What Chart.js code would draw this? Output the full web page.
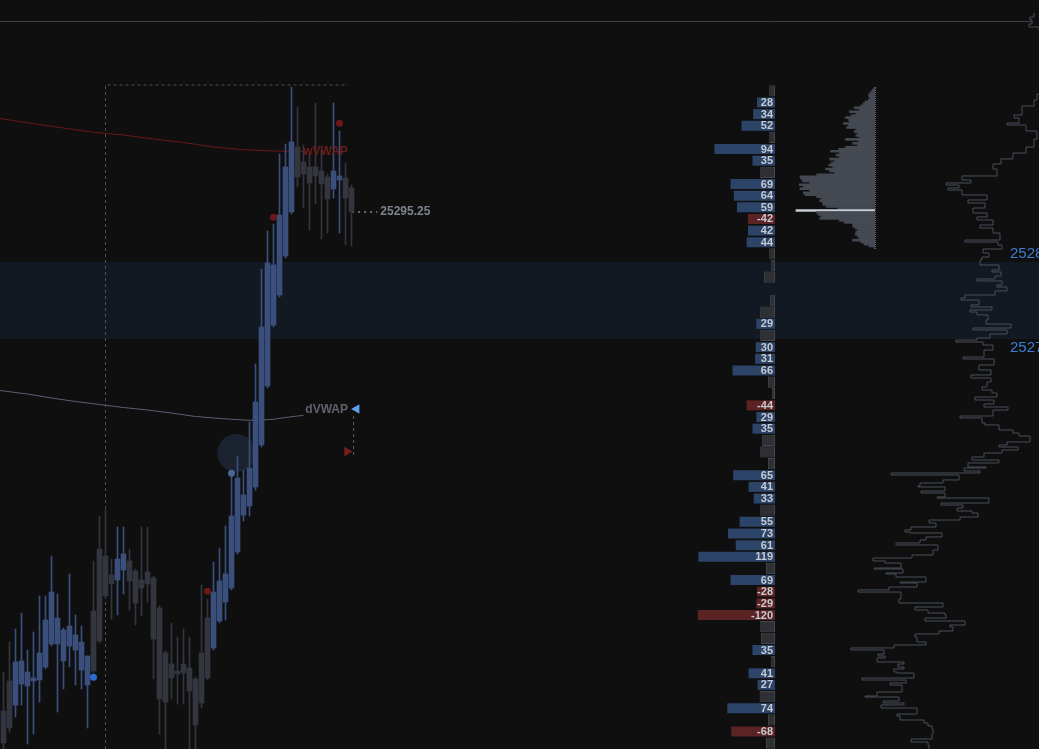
<!doctype html>
<html lang="en">
  <head>
    <meta charset="utf-8" />
    <title>NQ 1 min footprint</title>
    <style>
      html,
      body {
        margin: 0;
        padding: 0;
        width: 1039px;
        height: 749px;
        overflow: hidden;
        background: #0f0f10;
      }

      canvas {
        position: absolute;
        display: block;
      }

      #priceChart { left: 0; top: 0; }
      #sessionChart { left: 840px; top: 0; }
      #deltaChart { left: 690px; top: 85px; }
      #profileChart {
        left: 790px;
        top: 87px;
        border-right: 1px dotted #5d626b;
      }
    </style>
  </head>

  <body>
    <canvas id="priceChart" width="1039" height="749"></canvas>
    <canvas id="sessionChart" width="220" height="749"></canvas>
    <canvas id="deltaChart" width="88" height="664"></canvas>
    <canvas id="profileChart" width="86" height="162"></canvas>

    <script src="https://cdn.jsdelivr.net/npm/chart.js@4.4.1/dist/chart.umd.min.js"></script>
    <script type="text/javascript">
      // 1 min candles (oldest first)
      const candleOpen = [
        25245.35, 25248.35, 25245.95, 25248.05, 25247.85, 25248.35, 25248.45, 25249.75, 25252.05, 25252.05,
        25250.35, 25251.85, 25251.45, 25249.45, 25247.95, 25255.35, 25261.55, 25260.85, 25258.95, 25258.45,
        25259.45, 25260.35, 25259.35, 25258.45, 25259.25, 25258.65, 25255.65, 25251.15, 25250.05, 25249.35,
        25250.05, 25249.65, 25248.55, 25251.15, 25254.65, 25251.65, 25254.35, 25256.25, 25257.65, 25261.25,
        25264.95, 25265.85, 25267.75, 25271.95, 25277.85, 25283.95, 25286.95, 25290.85, 25295.25, 25301.75,
        25300.25, 25299.75, 25299.75, 25299.35, 25298.75, 25297.55, 25298.45, 25298.65, 25297.65,
      ];
      const candleHigh = [
        25249.25, 25252.25, 25253.55, 25255.15, 25251.45, 25253.25, 25256.85, 25256.85, 25260.85, 25257.05,
        25253.65, 25259.05, 25254.95, 25253.85, 25250.85, 25260.35, 25264.85, 25265.45, 25260.55, 25263.75,
        25263.75, 25261.55, 25259.55, 25263.75, 25263.75, 25258.85, 25255.85, 25251.35, 25254.15, 25252.75,
        25253.55, 25252.75, 25248.75, 25257.95, 25256.55, 25260.25, 25261.65, 25263.85, 25269.15, 25270.85,
        25269.45, 25274.25, 25280.05, 25289.55, 25293.35, 25294.05, 25301.05, 25302.05, 25307.75, 25305.75,
        25301.95, 25301.05, 25306.15, 25301.45, 25299.05, 25306.15, 25303.35, 25300.15, 25297.95,
      ];
      const candleLow = [
        25240.5, 25243.25, 25244.75, 25245.95, 25242.05, 25243.05, 25246.25, 25249.55, 25251.85, 25245.25,
        25247.55, 25249.75, 25247.95, 25247.55, 25243.65, 25249.15, 25252.15, 25256.65, 25254.55, 25254.95,
        25257.05, 25255.45, 25253.95, 25254.85, 25256.25, 25248.55, 25243.05, 25240.5, 25246.55, 25246.05,
        25246.05, 25240.5, 25240.5, 25245.65, 25248.45, 25251.45, 25254.15, 25254.45, 25257.45, 25261.05,
        25264.35, 25264.85, 25267.45, 25271.75, 25277.65, 25283.75, 25286.75, 25290.65, 25295.05, 25297.75,
        25295.65, 25293.45, 25296.05, 25292.55, 25293.15, 25296.65, 25293.15, 25291.95, 25291.85,
      ];
      const candleClose = [
        25242.15, 25243.65, 25250.25, 25250.35, 25249.25, 25248.65, 25251.15, 25254.45, 25257.25, 25254.65,
        25253.45, 25253.85, 25252.95, 25252.25, 25250.85, 25249.35, 25252.35, 25256.85, 25258.05, 25260.55,
        25261.05, 25258.35, 25256.15, 25257.65, 25258.05, 25252.55, 25246.55, 25246.25, 25248.65, 25249.05,
        25249.15, 25247.35, 25243.95, 25246.15, 25248.65, 25257.25, 25258.35, 25259.05, 25264.85, 25268.65,
        25266.95, 25269.65, 25276.25, 25283.75, 25290.15, 25289.95, 25294.95, 25299.75, 25302.25, 25298.75,
        25299.05, 25298.15, 25298.85, 25298.05, 25296.55, 25299.35, 25298.85, 25296.65, 25295.25,
      ];

      // vwap lines (candle slot, price)
      const wvwapSlot = [-0.6, 5, 10, 15, 20, 25, 30, 35, 40, 45, 50];
      const wvwap = [25304.6, 25304.08, 25303.65, 25303.22, 25302.95, 25302.55, 25302.2, 25301.75, 25301.48, 25301.35, 25301.3];
      const dvwapSlot = [-0.6, 4, 8, 12, 16, 20, 24, 28, 32, 35, 38, 41, 43, 45, 47, 49, 50];
      const dvwap = [
        25277.4, 25277.05, 25276.65, 25276.3, 25276.0, 25275.7, 25275.45, 25275.15, 25274.8,
        25274.65, 25274.52, 25274.42, 25274.45, 25274.52, 25274.7, 25274.85, 25274.92,
      ];

      // signal dots
      const signalSlot = [56, 45, 34, 38, 15];
      const signalPrice = [25304.12, 25294.72, 25257.32, 25269.12, 25248.72];
      const signalColor = ["#6d1818", "#6d1818", "#6d1818", "#4a6894", "#2e6acb"];

      const lastPrice = 25295.25;
      const zoneHigh = 25290.25;
      const zoneLow = 25282.55;
      const rangeHigh = 25307.95;
      const rangeStartSlot = 17;
      const rangeEndSlot = 57.4;
      const priorLevel = 25314.3;

      // footprint delta per row (top to bottom)
      const deltas = [
        9, 28, 34, 52, 9, 94, 35, 23, 69, 64,
        59, -42, 42, 44, 9, 6, 17, 0, 8, 23,
        29, 23, 30, 31, 66, 11, 5, -44, 29, 35,
        20, 23, 11, 65, 41, 33, 23, 55, 73, 61,
        119, 14, 69, -28, -29, -120, 23, 22, 35, 6,
        41, 27, 24, 74, 11, -68, 14,
      ];
      const deltaRows = deltas.map((d, i) => "row " + (i + 1));

      // bar volume profile (top to bottom)
      const profileVolume = [
        10, 27, 43, 60, 67, 50, 67, 100, 120, 143,
        210, 160, 260, 193, 243, 300, 267, 260, 320, 267,
        287, 193, 210, 177, 193, 160, 300, 167, 227, 177,
        300, 367, 450, 360, 393, 360, 460, 410, 443, 467,
        427, 500, 460, 410, 593, 760, 750, 733, 660, 767,
        727, 760, 660, 727, 710, 593, 543, 560, 533, 527,
        493, 377, 800, 593, 577, 543, 560, 360, 310, 227,
        227, 200, 177, 193, 200, 177, 160, 227, 143, 110,
        60, 10,
      ];
      const profileRows = profileVolume.map((v, i) => "p" + i);

      // session profile outline (price where a run starts, volume of the run)
      const sessionPrice = [
        25305.45, 25305.03, 25304.71, 25304.29, 25303.97, 25303.66, 25297.31, 25296.88, 25296.25, 25295.61,
        25294.66, 25294.34, 25293.81, 25293.6, 25292.97, 25292.12, 25291.27, 25290.64, 25290.01, 25289.48,
        25288.95, 25288.21, 25287.78, 25287.47, 25287.25, 25286.94, 25286.72, 25286.2, 25285.67, 25285.35,
        25284.82, 25284.29, 25283.87, 25283.55, 25283.02, 25282.7, 25282.17, 25281.43, 25281.22, 25280.9,
        25280.48, 25280.06, 25279.63, 25279.32, 25278.79, 25278.26, 25278.05, 25277.62, 25277.31, 25277.1,
        25276.67, 25276.46, 25276.04, 25275.61, 25275.3, 25275.08, 25274.56, 25274.34, 25274.03, 25273.81,
        25273.5, 25272.97, 25272.54, 25272.12, 25271.91, 25271.49, 25271.06, 25270.85, 25270.64, 25270.32,
        25269.79, 25269.05, 25268.84, 25268.21, 25267.68, 25267.15, 25266.83, 25266.41, 25265.88, 25265.56,
        25265.24, 25264.82, 25264.5, 25264.08, 25263.76, 25263.44, 25262.81, 25262.6, 25262.07, 25261.86,
        25261.33, 25261.01, 25260.69, 25260.06, 25259.74, 25259.53, 25259.21, 25258.89, 25258.47, 25258.15,
        25257.84, 25257.41, 25257.31, 25256.99, 25256.78, 25256.57, 25256.04, 25255.72, 25255.4, 25255.3,
        25254.87, 25254.66, 25254.24, 25254.13, 25253.6, 25253.39, 25253.07, 25252.76, 25252.54, 25252.12,
        25251.8, 25251.49, 25251.06, 25250.75, 25250.53, 25250.43, 25250.01, 25249.69, 25249.37, 25249.16,
        25248.63, 25248.1, 25247.78, 25247.47, 25247.25, 25246.72, 25246.62, 25246.2, 25246.09, 25245.77,
        25245.24, 25245.14, 25244.71, 25244.4, 25244.18, 25243.44, 25243.02, 25242.6, 25242.28, 25241.96,
        25241.75, 25241.43, 25241.12, 25240.69, 25240.48, 25240.06, 25239.74, 25239.42, 25238.89, 25238.58,
        25238.26, 25238.05, 25237.62, 25237.41, 25237.2, 25236.78, 25236.57, 25236.25, 25236.04, 25235.72,
        25235.61, 25235.08, 25234.87, 25234.56, 25234.34, 25233.6, 25233.18, 25233.07, 25232.65, 25232.44,
        25232.23, 25231.91, 25231.27, 25231.06, 25230.64, 25230.32, 25230.01, 25229.69, 25229.16, 25228.63,
        25228.31, 25227.99, 25227.57,
      ];
      const sessionVolume = [
        26, 30, 28, 31, 21, 8, 8, 23, 26, 38,
        46, 41, 53, 34, 23, 26, 34, 47, 59, 67,
        63, 98, 89, 114, 101, 112, 98, 73, 92, 75,
        87, 73, 83, 67, 80, 67, 60, 95, 62, 58,
        77, 71, 78, 80, 61, 68, 59, 65, 83, 58,
        63, 53, 65, 95, 99, 81, 89, 68, 90, 83,
        72, 74, 49, 87, 53, 70, 83, 104, 77, 67,
        76, 97, 66, 81, 69, 89, 69, 73, 78, 68,
        63, 85, 66, 76, 52, 67, 100, 78, 75, 61,
        47, 41, 30, 53, 61, 42, 58, 76, 88, 61,
        92, 74, 96, 80, 169, 101, 117, 140, 142, 115,
        139, 115, 123, 71, 119, 97, 103, 88, 82, 100,
        131, 124, 149, 155, 150, 118, 134, 140, 164, 122,
        127, 148, 187, 175, 159, 186, 157, 174, 164, 134,
        160, 143, 171, 202, 159, 161, 117, 145, 132, 115,
        114, 135, 95, 110, 107, 121, 145, 143, 134, 166,
        209, 176, 182, 175, 183, 156, 162, 156, 166, 163,
        146, 198, 154, 170, 158, 183, 195, 161, 177, 156,
        179, 143, 163, 160, 136, 132, 128, 127, 128, 149,
        132, 131, 131,
      ];
      const sessionTicks = [25280, 25270];

      Chart.defaults.animation = false;
      Chart.defaults.responsive = false;
      Chart.defaults.plugins.legend.display = false;
      Chart.defaults.plugins.tooltip.enabled = false;

      // no automatic room for points, every chart fills its canvas
      const flatLayout = { autoPadding: false, padding: 0 };

      const BLUE = "#3a4f7c";
      const GREY = "#34363f";
      const candleSlots = candleOpen.map((_, i) => i);
      const candleColor = candleSlots.map((i) => (candleClose[i] >= candleOpen[i] ? BLUE : GREY));

      function pts(xs, ys) {
        return xs.map((x, i) => ({ x: x, y: ys[i] }));
      }

      // band + text tags on the price chart
      const priceMarks = {
        id: "priceMarks",
        beforeDatasetsDraw(chart) {
          const { ctx, scales: { y } } = chart;
          const top = y.getPixelForValue(zoneHigh);
          const bottom = y.getPixelForValue(zoneLow);
          ctx.save();
          ctx.fillStyle = "#121923";
          ctx.fillRect(0, top, chart.width, bottom - top);
          ctx.restore();
        },
        afterDatasetsDraw(chart) {
          const { ctx, scales: { x, y } } = chart;
          const tags = [
            { text: "wVWAP", slot: 49.95, price: wvwap[wvwap.length - 1] - 0.05, color: "#6f1c1c" },
            { text: "dVWAP", slot: 50.3, price: 25275.45, color: "#5f626b" },
            { text: lastPrice.toFixed(2), slot: 62.8, price: lastPrice, color: "#7d828c" },
          ];
          ctx.save();
          ctx.font = 'bold 12px "Liberation Sans", Arial, sans-serif';
          ctx.textBaseline = "middle";
          ctx.textAlign = "left";
          tags.forEach((t) => {
            ctx.fillStyle = t.color;
            ctx.fillText(t.text, x.getPixelForValue(t.slot), y.getPixelForValue(t.price));
          });
          ctx.restore();
        },
      };

      new Chart(document.getElementById("priceChart"), {
        type: "bar",
        data: {
          datasets: [
            {
              type: "line",
              label: "signals",
              data: pts(signalSlot, signalPrice),
              showLine: false,
              pointRadius: 3.5,
              pointBorderWidth: 0,
              pointBackgroundColor: signalColor,
              order: 0,
            },
            {
              type: "line",
              label: "arrows",
              data: [
                { x: 58.85, y: 25275.55 },
                { x: 57.25, y: 25271.3 },
              ],
              showLine: false,
              pointStyle: "triangle",
              pointRadius: 5.5,
              pointRotation: [-90, 90],
              pointBorderWidth: 0,
              pointBackgroundColor: ["#5d9ee8", "#7a1c1c"],
              order: 0,
            },
            {
              type: "bar",
              label: "body",
              data: candleSlots.map((i) => ({ x: i, y: [candleOpen[i], candleClose[i]] })),
              backgroundColor: candleColor,
              barThickness: 5,
              grouped: false,
              minBarLength: 1,
              borderWidth: 0,
              order: 2,
            },
            {
              type: "bar",
              label: "wick",
              data: candleSlots.map((i) => ({ x: i, y: [candleLow[i], candleHigh[i]] })),
              backgroundColor: candleColor,
              barThickness: 1,
              grouped: false,
              borderWidth: 0,
              order: 3,
            },
            {
              type: "line",
              label: "wVWAP",
              data: pts(wvwapSlot, wvwap),
              borderColor: "#6a1717",
              borderWidth: 1,
              pointRadius: 0,
              order: 4,
            },
            {
              type: "line",
              label: "dVWAP",
              data: pts(dvwapSlot, dvwap),
              borderColor: "#5c5f70",
              borderWidth: 1,
              pointRadius: 0,
              order: 4,
            },
            {
              type: "line",
              label: "last",
              data: [
                { x: 58.1, y: lastPrice },
                { x: 62.3, y: lastPrice },
              ],
              borderColor: "#686d77",
              borderWidth: 2,
              borderDash: [2, 4],
              pointRadius: 0,
              order: 4,
            },
            {
              type: "line",
              label: "link",
              data: [
                { x: 58.35, y: 25274.85 },
                { x: 58.35, y: 25270.9 },
              ],
              borderColor: "#5c6068",
              borderWidth: 1,
              borderDash: [3, 3],
              pointRadius: 0,
              order: 4,
            },
            {
              type: "line",
              label: "range",
              data: [
                { x: rangeStartSlot, y: 25241.55 },
                { x: rangeStartSlot, y: rangeHigh },
                { x: rangeEndSlot, y: rangeHigh },
              ],
              borderColor: "#4c5058",
              borderWidth: 1,
              borderDash: [3, 3],
              pointRadius: 0,
              order: 5,
            },
            {
              type: "line",
              label: "prior",
              data: [
                { x: -0.6, y: priorLevel },
                { x: 171.3, y: priorLevel },
              ],
              borderColor: "#3b4048",
              borderWidth: 1,
              pointRadius: 0,
              order: 5,
            },
            {
              type: "line",
              label: "halo",
              data: [{ x: 38.8, y: 25271.15 }],
              showLine: false,
              pointRadius: 19,
              pointBorderWidth: 0,
              pointBackgroundColor: "#1b2330",
              order: 6,
            },
          ],
        },
        options: {
          devicePixelRatio: 1,
          layout: flatLayout,
          scales: {
            x: { type: "linear", min: -0.5833, max: 172.583, offset: false, display: false },
            y: { type: "linear", min: 25241.55, max: 25316.45, display: false },
          },
        },
        plugins: [priceMarks],
      });

      // session profile outline + its price labels
      const sessionLabels = {
        id: "sessionLabels",
        afterDatasetsDraw(chart) {
          const { ctx, scales: { x, y } } = chart;
          ctx.save();
          ctx.font = '15px "Liberation Sans", Arial, sans-serif';
          ctx.fillStyle = "#3c7fd4";
          ctx.textBaseline = "middle";
          ctx.textAlign = "left";
          sessionTicks.forEach((v) => {
            ctx.fillText(String(v), x.getPixelForValue(50), y.getPixelForValue(v));
          });
          ctx.restore();
        },
      };

      new Chart(document.getElementById("sessionChart"), {
        type: "line",
        data: {
          datasets: [
            {
              data: pts(sessionVolume, sessionPrice),
              stepped: "after",
              borderColor: "#49505a",
              borderWidth: 1,
              pointRadius: 0,
              fill: false,
            },
          ],
        },
        options: {
          devicePixelRatio: 1,
          layout: flatLayout,
          scales: {
            x: { type: "linear", reverse: true, min: 0, max: 220, display: false },
            y: { type: "linear", min: 25227.57, max: 25306.83, display: false },
          },
        },
        plugins: [sessionLabels],
      });

      // footprint delta column
      const deltaLabels = {
        id: "deltaLabels",
        afterDatasetsDraw(chart) {
          const { ctx } = chart;
          const meta = chart.getDatasetMeta(1);
          ctx.save();
          ctx.font = 'bold 11px "Liberation Sans", Arial, sans-serif';
          ctx.fillStyle = "#c6cad2";
          ctx.textBaseline = "middle";
          ctx.textAlign = "right";
          meta.data.forEach((bar, i) => {
            if (Math.abs(deltas[i]) < 25) return;
            ctx.fillText(String(deltas[i]), bar.base - 2, bar.y + 0.5);
          });
          ctx.restore();
        },
      };

      new Chart(document.getElementById("deltaChart"), {
        type: "bar",
        data: {
          labels: deltaRows,
          datasets: [
            {
              label: "small",
              data: deltas.map((d) => (d !== 0 && Math.abs(d) < 25 ? Math.abs(d) : null)),
              backgroundColor: "#2f3034",
              borderColor: "#43464c",
              borderWidth: 1,
              borderSkipped: false,
              barPercentage: 0.97,
              categoryPercentage: 1,
              grouped: false,
            },
            {
              label: "delta",
              data: deltas.map((d) => (Math.abs(d) >= 25 ? Math.abs(d) : null)),
              backgroundColor: deltas.map((d) => (d < 0 ? "#5b2323" : "#2c4467")),
              borderWidth: 0,
              barPercentage: 0.86,
              categoryPercentage: 1,
              grouped: false,
            },
          ],
        },
        options: {
          indexAxis: "y",
          devicePixelRatio: 1,
          layout: { autoPadding: false, padding: { right: 3 } },
          scales: {
            x: { type: "linear", reverse: true, min: 0, max: 132, display: false },
            y: { display: false },
          },
        },
        plugins: [deltaLabels],
      });

      // bar volume profile with point of control
      const pocIndex = profileVolume.indexOf(Math.max(...profileVolume));

      new Chart(document.getElementById("profileChart"), {
        type: "bar",
        data: {
          labels: profileRows,
          datasets: [
            {
              data: profileVolume,
              backgroundColor: profileVolume.map((v, i) => (i === pocIndex ? "#c7ccd4" : "#454952")),
              borderWidth: 0,
              barPercentage: 1,
              categoryPercentage: 1,
            },
          ],
        },
        options: {
          indexAxis: "y",
          devicePixelRatio: 1,
          layout: flatLayout,
          scales: {
            x: { type: "linear", reverse: true, min: 0, max: 860, display: false },
            y: { display: false },
          },
        },
      });
    </script>
  </body>
</html>
